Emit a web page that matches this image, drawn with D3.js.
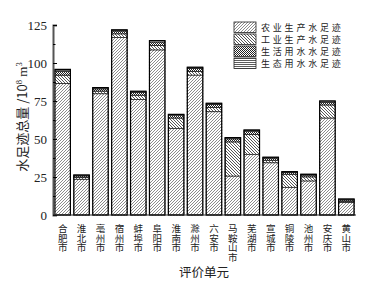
<!DOCTYPE html>
<html><head><meta charset="utf-8">
<script src="https://cdn.jsdelivr.net/npm/d3@7"></script>
<style>body{margin:0;background:#fff}svg{display:block}</style>
</head><body>
<svg id="c" width="376" height="285"></svg>
<script>
const categories = ["合肥市","淮北市","亳州市","宿州市","蚌埠市","阜阳市","淮南市","滁州市","六安市","马鞍山市","芜湖市","宣城市","铜陵市","池州市","安庆市","黄山市"];
const agri     = [86.5,23.5,79.8,116.8,76.0,108.6,57.0,92.0,68.0,25.6,39.9,34.4,18.2,22.4,63.8,8.2];
const industry = [5.5,1.2,1.7,2.4,2.8,2.9,6.8,2.5,2.8,22.5,13.0,1.6,8.6,2.7,8.6,0.8];
const domestic = [2.5,1.0,1.5,1.8,1.8,2.3,1.6,1.9,1.9,2.0,2.2,1.4,1.2,1.1,1.8,0.9];
const eco      = [1.3,0.6,0.8,0.8,0.8,0.9,0.8,0.8,0.8,0.8,0.8,0.6,0.5,0.6,0.8,0.6];
const seriesNames = ["农业生产水足迹","工业生产水足迹","生活用水水足迹","生态用水水足迹"];
const yTicks = [0,25,50,75,100,125];

const svg = d3.select("#c");
const defs = svg.append("defs");
function pat(id, w, h, draw){
  const p = defs.append("pattern").attr("id",id).attr("patternUnits","userSpaceOnUse").attr("width",w).attr("height",h);
  p.append("rect").attr("width",w).attr("height",h).attr("fill","#fff");
  draw(p);
}
pat("pAg",3,3,p=>{p.append("path").attr("d","M-1,1 L1,-1 M0,3 L3,0 M2,4 L4,2").attr("stroke","#666").attr("stroke-width",0.75);});
pat("pInd",3,3,p=>{p.append("path").attr("d","M-1,2 L1,4 M0,0 L3,3 M2,-1 L4,1").attr("stroke","#444").attr("stroke-width",0.9);});
pat("pDom",2,2,p=>{p.append("rect").attr("width",1).attr("height",1).attr("fill","#222");p.append("rect").attr("x",1).attr("y",1).attr("width",1).attr("height",1).attr("fill","#222");});
pat("pEco",3,2,p=>{p.append("rect").attr("y",0).attr("width",3).attr("height",0.8).attr("fill","#333");});
const fills = ["url(#pAg)","url(#pInd)","url(#pDom)","url(#pEco)"];

const x = d3.scaleBand().domain(categories).range([53,356]).paddingInner(0.18).paddingOuter(0.1);
const y = d3.scaleLinear().domain([0,125]).range([215,25]);

const rows = categories.map((c,i)=>({cat:c, s0:agri[i], s1:industry[i], s2:domestic[i], s3:eco[i]}));
const stack = d3.stack().keys(["s0","s1","s2","s3"])(rows);

stack.forEach((layer,k)=>{
  svg.append("g").selectAll("rect").data(layer).join("rect")
    .attr("x",d=>x(d.data.cat)).attr("width",x.bandwidth())
    .attr("y",d=>y(d[1])).attr("height",d=>y(d[0])-y(d[1]))
    .attr("fill",fills[k]).attr("stroke","#222").attr("stroke-width",0.8)
    .attr("stroke-dasharray",k===0?"2,1":null);
});
// outline
svg.append("g").selectAll("rect").data(rows).join("rect")
  .attr("x",d=>x(d.cat)).attr("width",x.bandwidth())
  .attr("y",d=>y(d.s0+d.s1+d.s2+d.s3)).attr("height",d=>y(0)-y(d.s0+d.s1+d.s2+d.s3))
  .attr("fill","none").attr("stroke","#000").attr("stroke-width",1.2);

// y axis
const yAxis = d3.axisLeft(y).tickValues(yTicks).tickSize(-4).tickPadding(6).tickFormat(d3.format("d"));
const gy = svg.append("g").attr("transform","translate(53,0)").call(yAxis);
gy.select(".domain").attr("stroke","#555").attr("stroke-width",2);
gy.selectAll("text").attr("font-family","Liberation Serif, serif").attr("font-size",13).attr("fill","#222");
const minor = d3.range(12.5,125,25);
svg.append("g").attr("transform","translate(53,0)").call(d3.axisLeft(y).tickValues(minor).tickSize(-2.5).tickFormat(""))
  .select(".domain").remove();

// x axis
const gx = svg.append("g").attr("transform","translate(0,215)");
gx.append("line").attr("x1",53).attr("x2",356).attr("stroke","#222").attr("stroke-width",1.2);
gx.selectAll("text").data(categories).join("text")
  .attr("x",d=>x(d)+x.bandwidth()/2).attr("y",9)
  .style("writing-mode","vertical-rl")
  .attr("font-family","Noto Sans CJK SC").attr("font-size",9.5).attr("fill","#222")
  .text(d=>d);

// axis titles
svg.append("text").attr("x",204).attr("y",277).attr("text-anchor","middle")
  .attr("font-family","Noto Sans CJK SC").attr("font-size",12.5).attr("fill","#222").text("评价单元");
const yt = svg.append("text").attr("transform","translate(27,117) rotate(-90)").attr("text-anchor","middle")
  .attr("font-family","Noto Sans CJK SC, Liberation Serif").attr("font-size",13).attr("fill","#222");
yt.append("tspan").text("水足迹总量 /10");
yt.append("tspan").attr("dy",-5).attr("font-size",8.5).attr("font-family","Liberation Serif").text("8");
yt.append("tspan").attr("dy",5).attr("font-family","Liberation Serif").text(" m");
yt.append("tspan").attr("dy",-5).attr("font-size",8.5).attr("font-family","Liberation Serif").text("3");

// legend
const lg = svg.append("g");
seriesNames.forEach((n,i)=>{
  const yy = 22 + i*12;
  lg.append("rect").attr("x",234).attr("y",yy).attr("width",22).attr("height",10.5)
    .attr("fill",fills[i]).attr("stroke","#222").attr("stroke-width",0.8);
  lg.append("text").attr("x",261).attr("y",yy+8.8).attr("font-family","Noto Sans CJK SC")
    .attr("font-size",9).style("letter-spacing","2.8px").attr("fill","#222").text(n);
});
</script>
</body></html>
